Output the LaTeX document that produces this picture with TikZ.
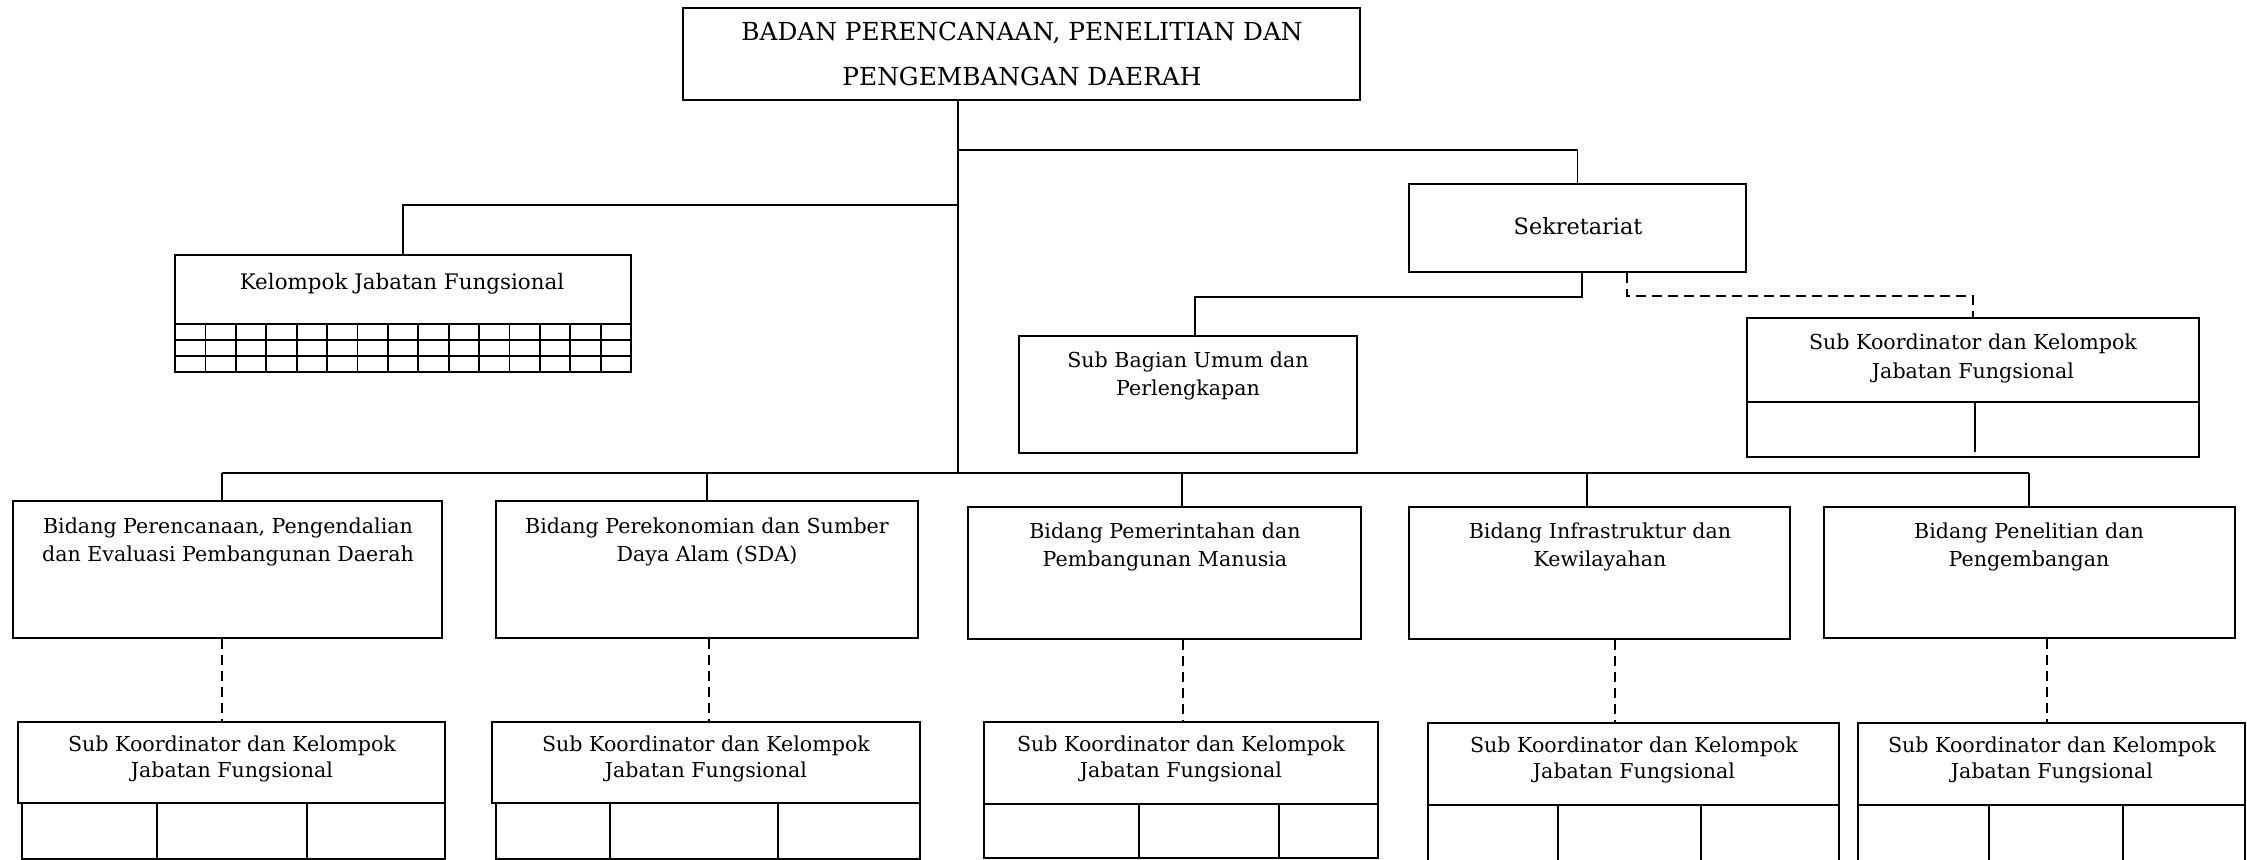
\documentclass[tikz,border=0pt]{standalone}
\usepackage{fontspec}
\setmainfont{DejaVu Serif}
\usetikzlibrary{fit}
\begin{document}
\begin{tikzpicture}[x=0.5pt,y=-0.5pt,
  boxst/.style={draw, line width=1.1pt, inner sep=0pt},
  txt/.style={align=center, inner sep=0pt, font=\fontsize{10.3}{13.7}\selectfont},
  subtxt/.style={align=center, inner sep=0pt, font=\fontsize{10.3}{12.6}\selectfont},
  conn/.style={line width=0.8pt},
  dashconn/.style={line width=0.8pt, dash pattern=on 5pt off 3pt},
  gridln/.style={line width=0.9pt}]
\fill[white] (0,0) rectangle (2247,860);
\useasboundingbox (0,0) rectangle (2247,860);

% ---------- boxes ----------
\node[boxst, fit={(683,8) (1360,100)}] (top) {};
\node[boxst, fit={(175,255) (631,372)}] (kjf) {};
\node[boxst, fit={(1409,184) (1746,272)}] (sek) {};
\node[boxst, fit={(1019,336) (1357,453)}] (sbu) {};
\node[boxst, fit={(1747,318) (2199,457)}] (sks) {};
\node[boxst, fit={(13,501) (442,638)}] (b1) {};
\node[boxst, fit={(496,501) (918,638)}] (b2) {};
\node[boxst, fit={(968,507) (1361,639)}] (b3) {};
\node[boxst, fit={(1409,507) (1790,639)}] (b4) {};
\node[boxst, fit={(1824,507) (2235,638)}] (b5) {};
\node[boxst, fit={(18,722) (445,803)}] (sk1) {};
\node[boxst, fit={(492,722) (920,803)}] (sk2) {};
\node[boxst, fit={(984,722) (1378,804)}] (sk3) {};
\node[boxst, fit={(1428,723) (1839,805)}] (sk4) {};
\node[boxst, fit={(1858,723) (2245,805)}] (sk5) {};

% ---------- texts ----------
\node[align=center, inner sep=0pt, font=\fontsize{12.4}{22.2}\selectfont] (top-t) at (1022,54)
  {BADAN PERENCANAAN, PENELITIAN DAN\\PENGEMBANGAN DAERAH};
\node[txt, font=\fontsize{10.7}{13.7}\selectfont] (kjf-t) at (402,284) {Kelompok Jabatan Fungsional};
\node[txt, font=\fontsize{11.2}{13.7}\selectfont] (sek-t) at (1578,226) {Sekretariat};
\node[txt] (sbu-t) at (1188,376) {Sub Bagian Umum dan\\Perlengkapan};
\node[txt, font=\fontsize{10.3}{14.5}\selectfont] (sks-t) at (1973,358) {Sub Koordinator dan Kelompok\\Jabatan Fungsional};
\node[txt] (b1-t) at (228,542) {Bidang Perencanaan, Pengendalian\\dan Evaluasi Pembangunan Daerah};
\node[txt] (b2-t) at (707,542) {Bidang Perekonomian dan Sumber\\Daya Alam (SDA)};
\node[txt] (b3-t) at (1165,547) {Bidang Pemerintahan dan\\Pembangunan Manusia};
\node[txt] (b4-t) at (1600,547) {Bidang Infrastruktur dan\\Kewilayahan};
\node[txt] (b5-t) at (2029,547) {Bidang Penelitian dan\\Pengembangan};
\node[subtxt] (sk1-t) at (232,759) {Sub Koordinator dan Kelompok\\Jabatan Fungsional};
\node[subtxt] (sk2-t) at (706,759) {Sub Koordinator dan Kelompok\\Jabatan Fungsional};
\node[subtxt] (sk3-t) at (1181,759) {Sub Koordinator dan Kelompok\\Jabatan Fungsional};
\node[subtxt] (sk4-t) at (1634,760) {Sub Koordinator dan Kelompok\\Jabatan Fungsional};
\node[subtxt] (sk5-t) at (2052,760) {Sub Koordinator dan Kelompok\\Jabatan Fungsional};

% ---------- cells under the boxes ----------
% grid of the functional group box
\foreach \yy in {324,340,356} \draw[gridln] (175,\yy) -- (631,\yy);
\foreach \i in {1,...,14} \draw[gridln] ({175+\i*30.4},324) -- ({175+\i*30.4},372);
% secretariat sub-coordinator
\draw[gridln] (1747,402) -- (2199,402);
\draw[gridln] (1975,402) -- (1975,452);
% sub-coordinator cells
\draw[boxst] (22,803) rectangle (445,859);
\draw[gridln] (157,803) -- (157,859) (307,803) -- (307,859);
\draw[boxst] (496,803) rectangle (920,859);
\draw[gridln] (610,803) -- (610,859) (778,803) -- (778,859);
\draw[boxst] (984,804) rectangle (1378,858);
\draw[gridln] (1139,804) -- (1139,858) (1279,804) -- (1279,858);
\draw[gridln] (1428,805) -- (1428,860) (1558,805) -- (1558,860)
  (1701,805) -- (1701,860) (1839,805) -- (1839,860);
\draw[gridln] (1858,805) -- (1858,860) (1989,805) -- (1989,860)
  (2123,805) -- (2123,860) (2245,805) -- (2245,860);

% ---------- connectors ----------
\coordinate (trunk) at (958,473);
\coordinate (jS) at (958,150);
\coordinate (jK) at (958,205);
\coordinate (busL) at (222,473);
\coordinate (busR) at (2029,473);
\coordinate (d2) at (707,473);
\coordinate (d3) at (1182,473);
\coordinate (d4) at (1587,473);

\draw[conn] (top.south -| trunk) -- (trunk);
\draw[conn] (jS) -- (jS -| sek.north) -- (sek.north);
\draw[conn] (jK) -- (jK -| kjf.north) -- (kjf.north);
\draw[conn] (busL) -- (busR);
\draw[conn] (busL) -- (busL |- b1.north);
\draw[conn] (d2) -- (d2 |- b2.north);
\draw[conn] (d3) -- (d3 |- b3.north);
\draw[conn] (d4) -- (d4 |- b4.north);
\draw[conn] (busR) -- (busR |- b5.north);

\coordinate (s1) at (1582,297);
\coordinate (s1b) at (1195,297);
\draw[conn] (sek.south -| s1) -- (s1) -- (s1b) -- (s1b |- sbu.north);
\coordinate (s2) at (1627,296);
\draw[dashconn] (sek.south -| s2) -- (s2) -- (s2 -| sks.north) -- (sks.north);

\coordinate (v1) at (222,680);
\coordinate (v2) at (709,680);
\coordinate (v3) at (1183,680);
\coordinate (v4) at (1615,680);
\coordinate (v5) at (2047,680);
\draw[dashconn] (b1.south -| v1) -- (sk1.north -| v1);
\draw[dashconn] (b2.south -| v2) -- (sk2.north -| v2);
\draw[dashconn] (b3.south -| v3) -- (sk3.north -| v3);
\draw[dashconn] (b4.south -| v4) -- (sk4.north -| v4);
\draw[dashconn] (b5.south -| v5) -- (sk5.north -| v5);
\end{tikzpicture}
\end{document}
